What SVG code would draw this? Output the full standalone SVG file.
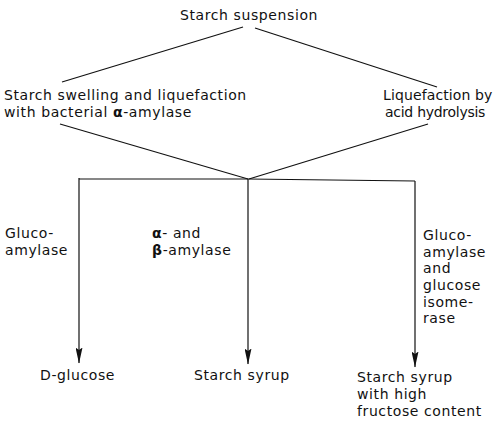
<svg xmlns="http://www.w3.org/2000/svg" width="496" height="425" viewBox="0 0 496 425">
<style>
text{font-family:"DejaVu Sans","Noto Sans",sans-serif;font-size:14px;fill:#111;letter-spacing:0.6px}
.g{font-weight:bold}
line,path.c{stroke:#111;stroke-width:1.2;fill:none}
</style>
<defs>
<marker id="ah" markerWidth="16" markerHeight="7" refX="15.5" refY="3.5" orient="auto" markerUnits="userSpaceOnUse" viewBox="0 0 16 7">
<path d="M0,0 L2.5,3.5 L0,7 L16,3.5 Z" fill="#111"/>
</marker>
</defs>
<rect width="496" height="425" fill="#fff"/>
<g id="connectors">
<line x1="243" y1="27" x2="62" y2="82"/>
<line x1="255" y1="28" x2="437" y2="87"/>
<line x1="60" y1="124" x2="248" y2="179"/>
<line x1="428" y1="124" x2="249" y2="179"/>
<path class="c" d="M79,179 L248,179 L415,181"/>
<line x1="79" y1="178" x2="79" y2="363" marker-end="url(#ah)"/>
<line x1="248" y1="179" x2="248" y2="364" marker-end="url(#ah)"/>
<line x1="415" y1="181" x2="415" y2="367" marker-end="url(#ah)"/>
</g>
<g id="n-suspension"><text x="249" y="20" text-anchor="middle">Starch suspension</text></g>
<g id="n-swelling"><text x="4" y="100">Starch swelling and liquefaction</text><text x="4" y="117">with bacterial <tspan class="g">α</tspan>-amylase</text></g>
<g id="n-acid"><text x="383" y="100" textLength="110" lengthAdjust="spacing">Liquefaction by</text><text x="385" y="117" textLength="101" lengthAdjust="spacing">acid hydrolysis</text></g>
<g id="l-gluco"><text x="5" y="238">Gluco-</text><text x="5" y="255">amylase</text></g>
<g id="l-ab"><text x="152" y="238"><tspan class="g">α</tspan>- and</text><text x="152" y="255"><tspan class="g">β</tspan>-amylase</text></g>
<g id="l-iso"><text x="423" y="240">Gluco-</text><text x="423" y="257">amylase</text><text x="423" y="273">and</text><text x="423" y="290">glucose</text><text x="423" y="307">isome-</text><text x="423" y="323">rase</text></g>
<g id="n-glucose"><text x="40" y="380">D-glucose</text></g>
<g id="n-syrup"><text x="194" y="380">Starch syrup</text></g>
<g id="n-hfcs"><text x="357" y="382">Starch syrup</text><text x="357" y="399">with high</text><text x="357" y="416">fructose content</text></g>
</svg>
